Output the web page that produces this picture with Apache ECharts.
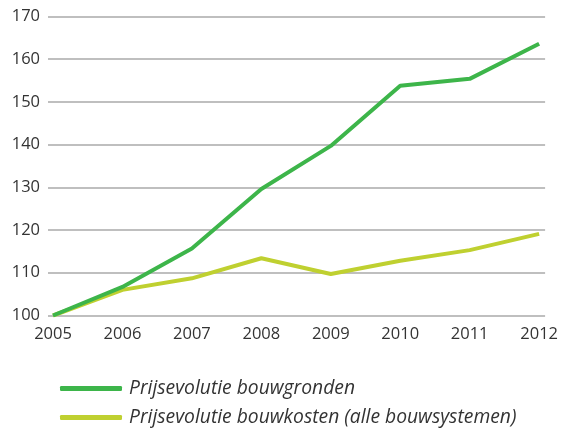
<!DOCTYPE html>
<html lang="nl">
<head>
    <meta charset="UTF-8">
    <title>Prijsevolutie</title>
    <script src="https://cdn.jsdelivr.net/npm/echarts@6/dist/echarts.min.js"></script>
    <style>
        html, body { margin: 0; padding: 0; background: #fff; }
        #chart { width: 561px; height: 430px; }
    </style>
</head>
<body>
    <div id="chart"></div>
    <script>
        // jaren en indexwaarden (2005 = 100)
        const years = [2005, 2006, 2007, 2008, 2009, 2010, 2011, 2012];
        const bouwgronden = [100, 106.7, 115.7, 129.6, 139.7, 153.8, 155.4, 163.6];
        const bouwkosten = [100, 106.0, 108.7, 113.4, 109.7, 112.8, 115.3, 119.1];
        const yTicks = [100, 110, 120, 130, 140, 150, 160, 170];
        const names = ['Prijsevolutie bouwgronden', 'Prijsevolutie bouwkosten (alle bouwsystemen)'];

        const chart = echarts.init(document.getElementById('chart'));
        const font = 'Open Sans';

        // één legende per regel, onder elkaar
        const legendRow = (name, top) => ({
            left: 60,
            top: top,
            padding: 0,
            itemWidth: 62,
            itemHeight: 5,
            icon: 'roundRect',
            textStyle: { fontFamily: font, fontStyle: 'italic', fontSize: 19.3, color: '#333', padding: [0, 0, 0, 2] },
            data: [name]
        });

        const option = {
            animation: false,
            grid: { left: 48, right: 15, top: 16.5, bottom: 114.5 },
            legend: [legendRow(names[0], 379), legendRow(names[1], 408)],
            xAxis: {
                type: 'value',
                min: 2004.928,
                max: 2012.086,
                axisLine: { show: false },
                axisTick: { show: false },
                splitLine: { show: false },
                axisLabel: {
                    customValues: years,
                    fontFamily: font,
                    fontSize: 16.5,
                    color: '#333',
                    margin: 10,
                    formatter: v => String(v)
                }
            },
            yAxis: {
                type: 'value',
                min: 100,
                max: 170,
                interval: 10,
                axisLine: { show: false },
                axisTick: { show: false },
                axisLabel: {
                    customValues: yTicks,
                    fontFamily: font,
                    fontSize: 16.5,
                    color: '#333',
                    margin: 8
                },
                splitLine: { lineStyle: { color: '#aaaaaa', width: 1.5 } }
            },
            series: [
                {
                    name: names[1],
                    type: 'line',
                    data: years.map((y, i) => [y, bouwkosten[i]]),
                    symbol: 'none',
                    lineStyle: { color: '#bfd030', width: 4 },
                    itemStyle: { color: '#bfd030' },
                    z: 2
                },
                {
                    name: names[0],
                    type: 'line',
                    data: years.map((y, i) => [y, bouwgronden[i]]),
                    symbol: 'none',
                    lineStyle: { color: '#3db54a', width: 4 },
                    itemStyle: { color: '#3db54a' },
                    z: 3
                }
            ]
        };

        chart.setOption(option);
    </script>
</body>
</html>
